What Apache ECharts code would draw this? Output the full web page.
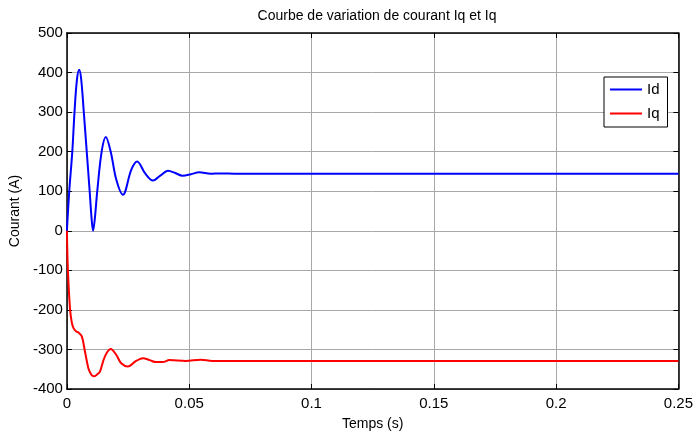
<!DOCTYPE html>
<html>
<head>
<meta charset="utf-8">
<script src="https://cdn.jsdelivr.net/npm/echarts@6/dist/echarts.min.js"></script>
<style>
  html, body { margin: 0; padding: 0; background: #fff; }
  #chart { width: 696px; height: 436px; }
</style>
</head>
<body>
<div id="chart"></div>
<script>
// Direct-axis current Id (A) over time (s)
const idTime = [0, 0.00095, 0.0022, 0.0031, 0.0041, 0.0050, 0.0058, 0.0069, 0.0081, 0.0093, 0.0101, 0.0107,
  0.0114, 0.0124, 0.0142, 0.0159, 0.0179, 0.0202, 0.0229, 0.0263, 0.0287, 0.0320, 0.0352, 0.0383, 0.0413,
  0.0443, 0.0473, 0.0507, 0.0541, 0.0588, 0.0622, 0.07, 0.25];
const idValues = [0, 100, 200, 300, 382, 407, 385, 300, 200, 100, 30, 0,
  30, 100, 200, 237, 200, 129, 91, 154, 175, 145, 127, 140, 152,
  146, 139, 143, 148, 144, 145, 144, 144];

// Quadrature-axis current Iq (A) over time (s)
const iqTime = [0, 0.0004, 0.0013, 0.0020, 0.0027, 0.0037, 0.0047, 0.0061, 0.0074, 0.0088, 0.0100, 0.0110,
  0.0122, 0.0135, 0.0155, 0.0179, 0.0202, 0.0222, 0.0249, 0.0283, 0.0311, 0.0338, 0.0365, 0.0392, 0.0419,
  0.0486, 0.0547, 0.0594, 0.07, 0.25];
const iqValues = [0, -100, -200, -232, -246, -254, -257, -267, -306, -348, -364, -368,
  -364, -356, -318, -299, -314, -335, -343, -329, -322, -327, -332, -332, -327,
  -329, -326, -329, -329, -329];

const xTicks = { min: 0, max: 0.25, interval: 0.05 };
const yTicks = { min: -400, max: 500, interval: 100 };

const seriesNames = ['Id', 'Iq'];
const chartTitle = 'Courbe de variation de courant Iq et Iq';
const xName = 'Temps (s)';
const yName = 'Courant (A)';

const pairs = (ts, vs) => ts.map((t, i) => [t, vs[i]]);

const FONT = "'Liberation Sans', Arial, sans-serif";
const axisLine = { show: true, onZero: false, lineStyle: { color: '#000', width: 1.5 } };
const axisTick = { show: true, inside: true, length: 5, lineStyle: { color: '#000', width: 1 } };
const gridLine = { show: true, lineStyle: { color: '#a8a8a8', width: 1 } };

const chart = echarts.init(document.getElementById('chart'), null, { renderer: 'canvas' });
chart.setOption({
  backgroundColor: '#fff',
  animation: false,
  title: {
    text: chartTitle,
    left: 372, top: 4, textAlign: 'center',
    textStyle: { fontFamily: FONT, fontSize: 14, fontWeight: 'normal', color: '#000' }
  },
  grid: { left: 63, right: 14, top: 33, bottom: 47, containLabel: false },
  legend: {
    data: seriesNames,
    orient: 'vertical',
    left: 604, top: 77,
    backgroundColor: '#fff',
    borderColor: '#000', borderWidth: 1,
    padding: [5, 8, 6, 6],
    itemWidth: 32, itemHeight: 2, itemGap: 9,
    icon: 'rect',
    textStyle: { fontFamily: FONT, fontSize: 15, color: '#000' }
  },
  xAxis: [
    {
      type: 'value', position: 'bottom', ...xTicks,
      name: xName, nameLocation: 'middle', nameGap: 28,
      nameTextStyle: { fontFamily: FONT, fontSize: 14, color: '#000' },
      axisLine, axisTick, splitLine: gridLine,
      axisLabel: { fontFamily: FONT, fontSize: 15, color: '#000', margin: 7,
        formatter: v => String(+v.toFixed(2)) }
    },
    {
      type: 'value', position: 'top', ...xTicks,
      axisLine, axisTick, splitLine: { show: false }, axisLabel: { show: false }
    }
  ],
  yAxis: [
    {
      type: 'value', position: 'left', ...yTicks,
      name: yName, nameLocation: 'middle', nameGap: 42,
      nameTextStyle: { fontFamily: FONT, fontSize: 14, color: '#000' },
      axisLine, axisTick, splitLine: gridLine,
      axisLabel: { fontFamily: FONT, fontSize: 15, color: '#000', margin: 4 }
    },
    {
      type: 'value', position: 'right', ...yTicks,
      axisLine, axisTick, splitLine: { show: false }, axisLabel: { show: false }
    }
  ],
  series: [
    {
      name: seriesNames[0], type: 'line', xAxisIndex: 0, yAxisIndex: 0,
      data: pairs(idTime, idValues),
      smooth: 0.35, showSymbol: false, symbol: 'none',
      lineStyle: { color: '#0000ff', width: 2 }, itemStyle: { color: '#0000ff' },
      z: 3
    },
    {
      name: seriesNames[1], type: 'line', xAxisIndex: 0, yAxisIndex: 0,
      data: pairs(iqTime, iqValues),
      smooth: 0.35, showSymbol: false, symbol: 'none',
      lineStyle: { color: '#ff0000', width: 2 }, itemStyle: { color: '#ff0000' },
      z: 4
    }
  ]
});
</script>
</body>
</html>
